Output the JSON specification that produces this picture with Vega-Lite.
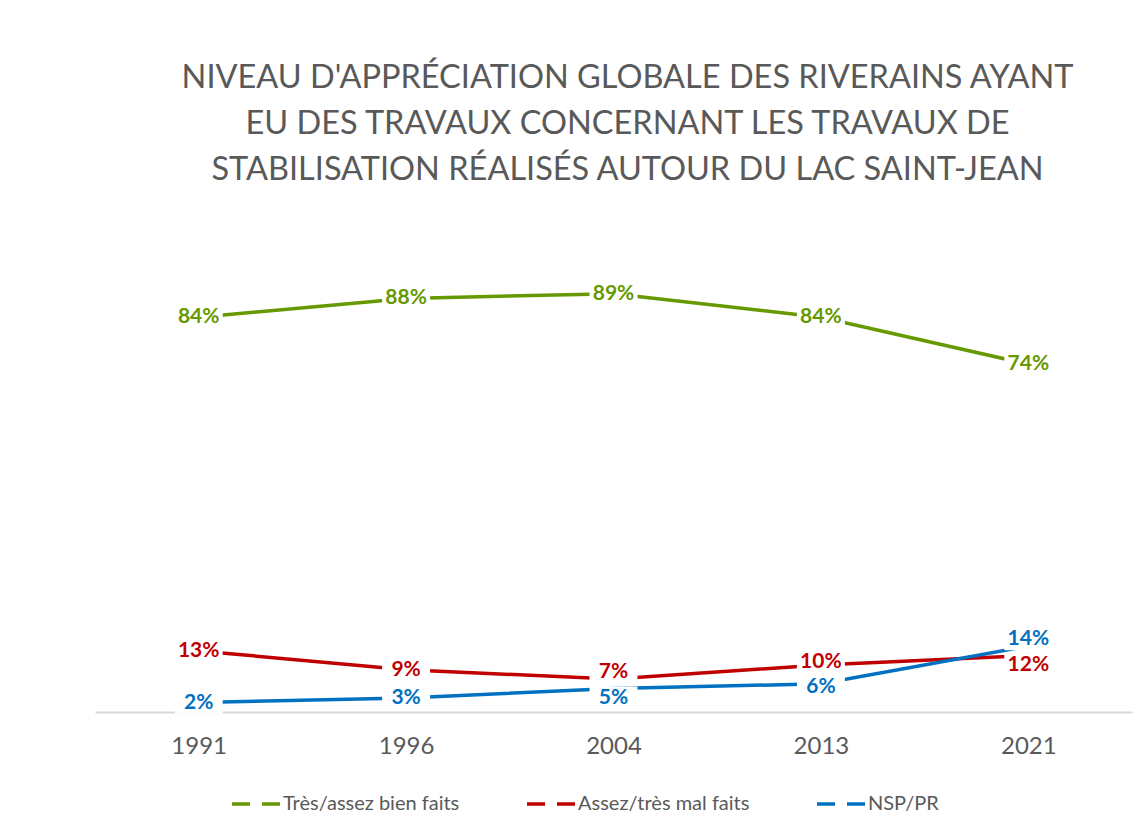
{
  "$schema": "https://vega.github.io/schema/vega-lite/v6.json",
  "width": 1037,
  "height": 470,
  "autosize": {"type": "none"},
  "padding": {"left": 95, "top": 242, "right": 16, "bottom": 123},
  "background": "white",
  "view": {"stroke": null},
  "title": {
    "text": ["NIVEAU D'APPRÉCIATION GLOBALE DES RIVERAINS AYANT", "EU DES TRAVAUX CONCERNANT LES  TRAVAUX DE", "STABILISATION RÉALISÉS AUTOUR DU LAC SAINT-JEAN"],
    "font": "Lato",
    "fontSize": 32.5,
    "fontWeight": "normal",
    "color": "#595959",
    "lineHeight": 46,
    "anchor": "middle",
    "dx": 14,
    "offset": 56
  },
  "data": {
    "values": [
      {"annee": "1991", "serie": "Très/assez bien faits", "valeur": 0.84},
      {"annee": "1996", "serie": "Très/assez bien faits", "valeur": 0.88},
      {"annee": "2004", "serie": "Très/assez bien faits", "valeur": 0.89},
      {"annee": "2013", "serie": "Très/assez bien faits", "valeur": 0.84},
      {"annee": "2021", "serie": "Très/assez bien faits", "valeur": 0.74},
      {"annee": "1991", "serie": "Assez/très mal faits", "valeur": 0.13},
      {"annee": "1996", "serie": "Assez/très mal faits", "valeur": 0.09},
      {"annee": "2004", "serie": "Assez/très mal faits", "valeur": 0.07},
      {"annee": "2013", "serie": "Assez/très mal faits", "valeur": 0.10},
      {"annee": "2021", "serie": "Assez/très mal faits", "valeur": 0.12},
      {"annee": "1991", "serie": "NSP/PR", "valeur": 0.02},
      {"annee": "1996", "serie": "NSP/PR", "valeur": 0.03},
      {"annee": "2004", "serie": "NSP/PR", "valeur": 0.05},
      {"annee": "2013", "serie": "NSP/PR", "valeur": 0.06},
      {"annee": "2021", "serie": "NSP/PR", "valeur": 0.14}
    ]
  },
  "encoding": {
    "x": {
      "field": "annee",
      "type": "ordinal",
      "scale": {"type": "point", "padding": 0.5},
      "axis": {
        "title": null,
        "ticks": false,
        "grid": false,
        "labelAngle": 0,
        "labelFont": "Lato",
        "labelFontSize": 24,
        "labelColor": "#595959",
        "labelPadding": 22,
        "domainColor": "#d9d9d9",
        "domainWidth": 2,
        "zindex": 0
      }
    },
    "y": {
      "field": "valeur",
      "type": "quantitative",
      "scale": {"domain": [0, 1]},
      "axis": null
    },
    "color": {
      "field": "serie",
      "type": "nominal",
      "scale": {
        "domain": ["Très/assez bien faits", "Assez/très mal faits", "NSP/PR"],
        "range": ["#669900", "#c00000", "#0070c0"]
      },
      "legend": {
        "title": null,
        "orient": "none",
        "legendX": 135,
        "legendY": 536,
        "direction": "horizontal",
        "columnPadding": 60,
        "symbolType": "stroke",
        "symbolSize": 2304,
        "symbolStrokeWidth": 3.5,
        "symbolDash": [18, 12],
        "labelFont": "Lato",
        "labelFontSize": 20,
        "labelColor": "#595959",
        "labelOffset": 1,
        "labelLimit": 400
      }
    }
  },
  "layer": [
    {
      "mark": {"type": "line", "strokeWidth": 3.5}
    },
    {
      "transform": [{"filter": "!(datum.annee == '2004' && datum.serie == 'NSP/PR') && !(datum.annee == '2021' && datum.serie != 'Très/assez bien faits') && !(datum.annee == '2004' && datum.serie == 'Assez/très mal faits') && datum.annee != '2013'"}],
      "layer": [
        {
          "mark": {"type": "point", "shape": "M-1,-0.46L1,-0.46L1,0.46L-1,0.46Z", "size": 2304, "filled": true, "opacity": 1, "strokeWidth": 0},
          "encoding": {"color": {"value": "white"}}
        },
        {
          "mark": {"type": "text", "font": "Lato", "fontSize": 21, "fontWeight": "bold", "baseline": "middle", "align": "center"},
          "encoding": {"text": {"field": "valeur", "type": "quantitative", "format": ".0%"}}
        }
      ]
    },
    {
      "transform": [{"filter": "datum.annee == '2013' && datum.serie == 'Très/assez bien faits'"}],
      "layer": [
        {
          "mark": {"type": "point", "shape": "M-1,-0.46L1,-0.46L1,0.46L-1,0.46Z", "size": 2304, "filled": true, "opacity": 1, "strokeWidth": 0},
          "encoding": {"color": {"value": "white"}}
        },
        {
          "mark": {"type": "text", "font": "Lato", "fontSize": 21, "fontWeight": "bold", "baseline": "middle", "align": "center"},
          "encoding": {"text": {"field": "valeur", "type": "quantitative", "format": ".0%"}}
        }
      ]
    },
    {
      "transform": [{"filter": "(datum.annee == '2021' && datum.serie == 'NSP/PR') || (datum.annee == '2004' && datum.serie == 'Assez/très mal faits')"}],
      "layer": [
        {
          "mark": {"type": "point", "shape": "M-1,-0.46L1,-0.46L1,0.46L-1,0.46Z", "size": 2304, "filled": true, "opacity": 1, "strokeWidth": 0, "yOffset": -7},
          "encoding": {"color": {"value": "white"}}
        },
        {
          "mark": {"type": "text", "font": "Lato", "fontSize": 21, "fontWeight": "bold", "baseline": "middle", "align": "center", "dy": -7},
          "encoding": {"text": {"field": "valeur", "type": "quantitative", "format": ".0%"}}
        }
      ]
    },
    {
      "transform": [{"filter": "(datum.annee == '2004' && datum.serie == 'NSP/PR') || (datum.annee == '2021' && datum.serie == 'Assez/très mal faits')"}],
      "layer": [
        {
          "mark": {"type": "point", "shape": "M-1,-0.46L1,-0.46L1,0.46L-1,0.46Z", "size": 2304, "filled": true, "opacity": 1, "strokeWidth": 0, "yOffset": 9},
          "encoding": {"color": {"value": "white"}}
        },
        {
          "mark": {"type": "text", "font": "Lato", "fontSize": 21, "fontWeight": "bold", "baseline": "middle", "align": "center", "dy": 9},
          "encoding": {"text": {"field": "valeur", "type": "quantitative", "format": ".0%"}}
        }
      ]
    },
    {
      "transform": [{"filter": "datum.annee == '2013' && datum.serie == 'Assez/très mal faits'"}],
      "layer": [
        {
          "mark": {"type": "point", "shape": "M-1,-0.46L1,-0.46L1,0.46L-1,0.46Z", "size": 2304, "filled": true, "opacity": 1, "strokeWidth": 0, "yOffset": -3},
          "encoding": {"color": {"value": "white"}}
        },
        {
          "mark": {"type": "text", "font": "Lato", "fontSize": 21, "fontWeight": "bold", "baseline": "middle", "align": "center", "dy": -3},
          "encoding": {"text": {"field": "valeur", "type": "quantitative", "format": ".0%"}}
        }
      ]
    },
    {
      "transform": [{"filter": "datum.annee == '2013' && datum.serie == 'NSP/PR'"}],
      "layer": [
        {
          "mark": {"type": "point", "shape": "M-1,-0.46L1,-0.46L1,0.46L-1,0.46Z", "size": 2304, "filled": true, "opacity": 1, "strokeWidth": 0, "yOffset": 3},
          "encoding": {"color": {"value": "white"}}
        },
        {
          "mark": {"type": "text", "font": "Lato", "fontSize": 21, "fontWeight": "bold", "baseline": "middle", "align": "center", "dy": 3},
          "encoding": {"text": {"field": "valeur", "type": "quantitative", "format": ".0%"}}
        }
      ]
    }
  ]
}
